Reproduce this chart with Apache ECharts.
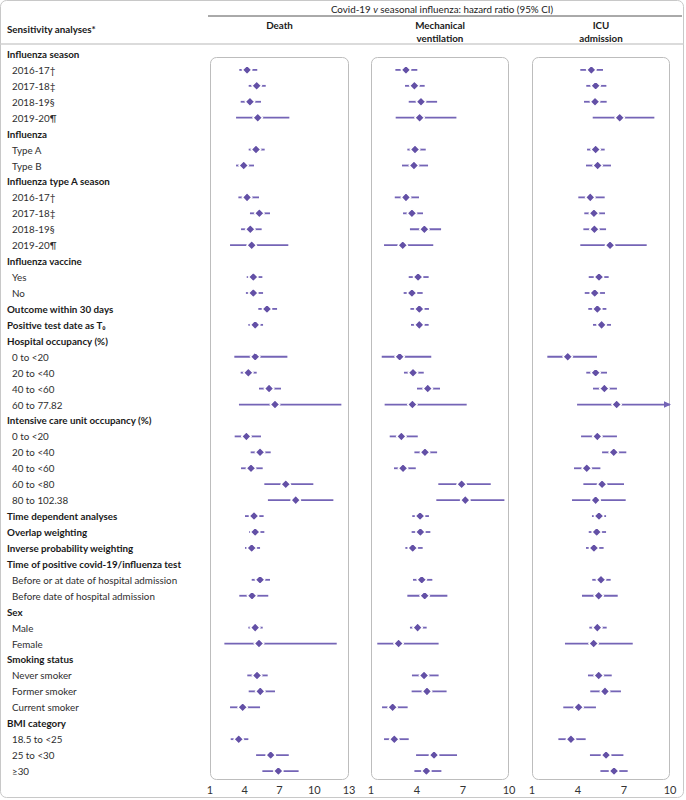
<!DOCTYPE html>
<html><head><meta charset="utf-8">
<script src="https://cdn.jsdelivr.net/npm/echarts@6/dist/echarts.min.js"></script>
<style>html,body{margin:0;padding:0;background:#fff}#c{width:686px;height:800px}</style>
</head><body><div id="c"></div>
<script>
// ---- data ----
const rowLabels = [
  'Influenza season','2016-17†','2017-18‡','2018-19§','2019-20¶',
  'Influenza','Type A','Type B',
  'Influenza type A season','2016-17†','2017-18‡','2018-19§','2019-20¶',
  'Influenza vaccine','Yes','No',
  'Outcome within 30 days','Positive test date as T₀',
  'Hospital occupancy (%)','0 to <20','20 to <40','40 to <60','60 to 77.82',
  'Intensive care unit occupancy (%)','0 to <20','20 to <40','40 to <60','60 to <80','80 to 102.38',
  'Time dependent analyses','Overlap weighting','Inverse probability weighting',
  'Time of positive covid-19/influenza test','Before or at date of hospital admission','Before date of hospital admission',
  'Sex','Male','Female',
  'Smoking status','Never smoker','Former smoker','Current smoker',
  'BMI category','18.5 to <25','25 to <30','≥30'
];
const headerRows = [0,5,8,13,16,17,18,23,29,30,31,32,35,38,42];

const deathHR = [null,4.2,5.03,4.45,5.12, null,4.97,3.91, null,4.2,5.26,4.48,4.6, null,4.74,4.74, 5.92,4.9, null,4.9,4.31,6.1,6.61, null,4.14,5.32,4.54,7.54,8.4, 4.8,4.9,4.6, null,5.32,4.63, null,4.9,5.23, null,5.06,5.34,3.82, null,3.48,6.24,6.9];
const deathLo = [null,3.53,4.34,3.65,3.25, null,4.34,3.25, null,3.45,4.45,3.68,2.73, null,4.17,4.1, 5.17,4.31, null,3.1,3.65,5.23,3.5, null,3.13,4.51,3.68,5.69,6.0, 4.02,4.37,4.02, null,4.6,3.53, null,4.31,2.24, null,4.22,4.34,2.73, null,2.79,4.98,5.52];
const deathHi = [null,5.08,5.81,5.4,7.85, null,5.72,4.8, null,5.23,6.18,5.46,7.76, null,5.52,5.58, 6.79,5.58, null,7.68,5.03,7.13,12.34, null,5.4,6.24,5.55,9.92,11.65, 5.63,5.69,5.32, null,6.18,6.03, null,5.55,11.94, null,5.98,6.61,5.32, null,4.31,7.8,8.65];

const mvHR = [null,3.28,3.83,4.26,4.17, null,3.87,3.8, null,3.28,3.67,4.48,3.07, null,4.07,3.67, 4.15,4.15, null,2.87,3.74,4.7,3.7, null,2.98,4.52,3.09,6.91,7.15, 4.2,4.22,3.72, null,4.31,4.5, null,4.04,2.8, null,4.46,4.65,2.41, null,2.52,5.11,4.61];
const mvLo = [null,2.59,3.22,3.46,2.61, null,3.37,3.02, null,2.55,3.09,3.54,1.85, null,3.46,3.13, 3.57,3.61, null,1.7,3.15,4.0,1.89, null,2.22,3.83,2.5,5.39,5.26, 3.69,3.65,3.24, null,3.74,3.37, null,3.54,1.41, null,3.67,3.65,1.72, null,1.85,3.94,3.83];
const mvHi = [null,4.02,4.5,5.31,6.57, null,4.57,4.72, null,4.13,4.39,5.57,5.06, null,4.76,4.37, 4.78,4.76, null,4.93,4.44,5.5,7.24, null,4.05,5.31,3.92,8.81,9.7, 4.78,4.87,4.37, null,5.0,5.98, null,4.63,5.41, null,5.41,5.93,3.39, null,3.46,6.61,5.59];

const icuHR = [null,4.87,5.15,5.11,6.72, null,5.15,5.28, null,4.8,5.04,5.07,6.09, null,5.37,5.09, 5.26,5.54, null,3.33,5.15,5.72,6.52, null,5.26,6.33,4.57,5.57,5.15, 5.37,5.22,5.04, null,5.5,5.35, null,5.26,5.02, null,5.35,5.76,4.04, null,3.54,5.83,6.35];
const icuLo = [null,4.15,4.54,4.39,4.96, null,4.59,4.52, null,4.02,4.41,4.35,4.15, null,4.7,4.44, 4.67,4.98, null,2.0,4.54,4.98,3.94, null,4.2,5.57,3.74,4.35,3.61, 4.91,4.7,4.52, null,4.93,4.26, null,4.74,3.15, null,4.65,4.8,3.04, null,2.72,4.78,5.46];
const icuHi = [null,5.63,5.85,5.87,8.98, null,5.74,6.15, null,5.74,5.76,5.83,8.48, null,6.0,5.76, 5.85,6.15, null,5.24,5.89,6.54,11.2, null,6.54,7.15,5.46,7.0,7.11, 5.83,5.83,5.67, null,6.13,6.59, null,5.87,7.57, null,6.2,6.8,5.17, null,4.5,6.96,7.24];

const panelTitles = ['Death','Mechanical\nventilation','ICU\nadmission'];
const deathTicks = [1,4,7,10,13];
const mvTicks = [1,4,7,10];
const icuTicks = [1,4,7,10];

// ---- layout / style ----
const FONT = 'Lato';
const FS = 9.8;
const lineColor = '#7464b6';
const dotColor = '#6350a6';
const textColor = '#1a1a1a';
const gridTop = 46, gridH = 733;
const panels = [
  {left:210, width:139, min:1, max:13, ticks:deathTicks, hr:deathHR, lo:deathLo, hi:deathHi},
  {left:371, width:138, min:1, max:10, ticks:mvTicks, hr:mvHR, lo:mvLo, hi:mvHi},
  {left:532, width:138, min:1, max:10, ticks:icuTicks, hr:icuHR, lo:icuLo, hi:icuHi}
];

function renderItem(params, api){
  const p = panels[params.seriesIndex];
  const row = api.value(3);
  const hiV = api.value(2);
  const pt = api.coord([api.value(0), row]);
  const lo = api.coord([api.value(1), row]);
  const hi = api.coord([Math.min(hiV, p.max), row]);
  const ch = [{type:'line', shape:{x1:lo[0],y1:lo[1],x2:hi[0],y2:hi[1]}, style:{stroke:lineColor, lineWidth:1.8}}];
  if (hiV > p.max) {
    ch.push({type:'polygon', shape:{points:[[hi[0]+1,hi[1]],[hi[0]-6,hi[1]-3.3],[hi[0]-6,hi[1]+3.3]]}, style:{fill:lineColor}});
  }
  const s = 4.8;
  ch.push({type:'polygon', shape:{points:[[pt[0],pt[1]-s],[pt[0]+s,pt[1]],[pt[0],pt[1]+s],[pt[0]-s,pt[1]]]},
    style:{fill:dotColor, stroke:'#fff', lineWidth:1.5, lineJoin:'round'}});
  return {type:'group', children:ch};
}

const cats = rowLabels.map((_,i)=>String(i));
const grids = [], xAxes = [], yAxes = [], series = [], graphics = [];
panels.forEach((p, k) => {
  grids.push({left:p.left, width:p.width, top:gridTop, height:gridH, containLabel:false});
  xAxes.push({type:'value', gridIndex:k, min:p.min, max:p.max,
    axisLine:{show:false}, axisTick:{show:false}, splitLine:{show:false},
    axisLabel:{customValues:p.ticks, fontFamily:FONT, fontSize:11, color:'#333', margin:5, showMinLabel:true, showMaxLabel:true}});
  yAxes.push({type:'category', gridIndex:k, data:cats, inverse:true,
    axisLine:{show:false}, axisTick:{show:false}, splitLine:{show:false},
    axisLabel: k === 0 ? {
      show:true, margin:203, align:'left', interval:0,
      formatter:(v, i) => headerRows.includes(i) ? '{h|' + rowLabels[i] + '}' : '{s|' + rowLabels[i] + '}',
      rich:{
        h:{fontFamily:FONT, fontSize:FS, fontWeight:'bold', color:textColor},
        s:{fontFamily:FONT, fontSize:FS, color:'#2e2e2e', padding:[0,0,0,5]}
      }
    } : {show:false}});
  const data = [];
  p.hr.forEach((v, i) => { if (v != null) data.push([v, p.lo[i], p.hi[i], i]); });
  series.push({type:'custom', xAxisIndex:k, yAxisIndex:k, renderItem, clip:false,
    encode:{x:[0,1,2], y:3}, data, z:3});
  graphics.push({type:'rect', z:1, shape:{x:p.left+0.5, y:57.5, width:p.width-1, height:722, r:6},
    style:{fill:'none', stroke:'#bdbdbd', lineWidth:1}});
  graphics.push({type:'text', z:2, style:{text:panelTitles[k], x:p.left + p.width/2, y:18, align:'center', verticalAlign:'top',
    fontFamily:FONT, fontSize:FS, fontWeight:'bold', lineHeight:13, fill:textColor}});
});

graphics.push(
  {type:'rect', z:0, shape:{x:0.5, y:0.5, width:683, height:797, r:6}, style:{fill:'none', stroke:'#c8c8c8', lineWidth:1}},
  {type:'line', shape:{x1:0, y1:44, x2:684, y2:44}, style:{stroke:'#cfcfcf', lineWidth:1.5}},
  {type:'line', shape:{x1:208, y1:16, x2:682, y2:16}, style:{stroke:'#555', lineWidth:1}},
  {type:'text', style:{text:'Sensitivity analyses*', x:7, y:29, verticalAlign:'middle', fontFamily:FONT, fontSize:FS, fontWeight:'bold', fill:textColor}},
  {type:'text', style:{text:'{a|Covid-19 }{i|v}{a| seasonal influenza: hazard ratio (95% CI)}', x:442, y:9, align:'center', verticalAlign:'middle',
    rich:{a:{fontFamily:FONT, fontSize:FS, fill:textColor, color:textColor}, i:{fontFamily:FONT, fontSize:FS, fontStyle:'italic', fill:textColor, color:textColor}}}}
);

const chart = echarts.init(document.getElementById('c'), null, {renderer:'svg'});
chart.setOption({
  animation:false,
  backgroundColor:'#fff',
  grid:grids, xAxis:xAxes, yAxis:yAxes, series, graphic:graphics
});
</script></body></html>
